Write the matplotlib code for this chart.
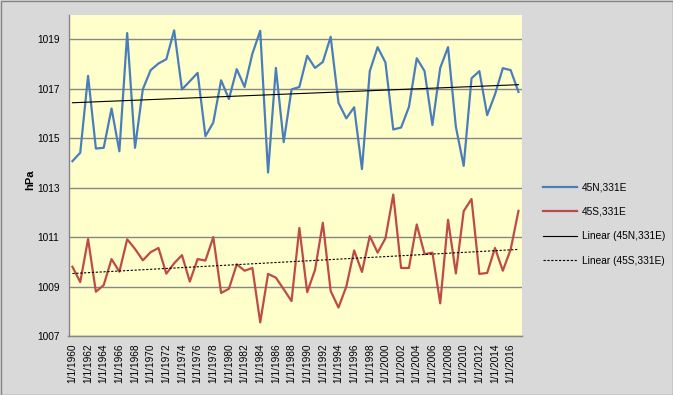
import numpy as np
import matplotlib.pyplot as plt
from matplotlib.patches import Rectangle

years = list(range(1960, 2018))

north = [1014.07, 1014.41, 1017.52, 1014.58, 1014.61, 1016.20, 1014.47, 1019.25,
         1014.61, 1016.98, 1017.75, 1018.02, 1018.19, 1019.36, 1016.97, 1017.30,
         1017.64, 1015.08, 1015.63, 1017.34, 1016.58, 1017.79, 1017.07, 1018.42,
         1019.34, 1013.61, 1017.84, 1014.84, 1016.97, 1017.07, 1018.33, 1017.84,
         1018.08, 1019.10, 1016.43, 1015.80, 1016.25, 1013.75, 1017.71, 1018.68,
         1018.06, 1015.35, 1015.43, 1016.26, 1018.23, 1017.71, 1015.53, 1017.84,
         1018.68, 1015.46, 1013.88, 1017.42, 1017.71, 1015.93, 1016.77, 1017.83,
         1017.75, 1016.87]

south = [1009.80, 1009.18, 1010.92, 1008.79, 1009.06, 1010.11, 1009.60, 1010.91,
         1010.52, 1010.06, 1010.39, 1010.56, 1009.52, 1009.94, 1010.27, 1009.20,
         1010.11, 1010.05, 1011.00, 1008.74, 1008.91, 1009.90, 1009.64, 1009.75,
         1007.55, 1009.51, 1009.36, 1008.89, 1008.41, 1011.37, 1008.77, 1009.67,
         1011.58, 1008.82, 1008.15, 1009.00, 1010.46, 1009.59, 1011.04, 1010.37,
         1010.95, 1012.72, 1009.75, 1009.75, 1011.51, 1010.31, 1010.37, 1008.32,
         1011.70, 1009.53, 1012.05, 1012.54, 1009.51, 1009.55, 1010.56, 1009.64,
         1010.50, 1012.06]

tick_years = list(range(1960, 2017, 2))
tick_labels = [f'1/1/{y}' for y in tick_years]
y_ticks = [1007, 1009, 1011, 1013, 1015, 1017, 1019]

plt.rcParams['font.family'] = ['Liberation Sans', 'DejaVu Sans']

fig = plt.figure(figsize=(6.73, 3.95), dpi=100, facecolor='#d9d9d9')
ax = fig.add_axes([68.5 / 673, 1 - 336 / 395, (522 - 68.5) / 673, (336 - 14.5) / 395])
ax.set_facecolor('#ffffcc')

x = np.array(years)
ax.plot(x, north, color='#4a7ebb', lw=1.6, label='45N,331E')
ax.plot(x, south, color='#be4b48', lw=1.6, label='45S,331E')

# linear trend lines like Excel
pn = np.polyfit(x, north, 1)
ps = np.polyfit(x, south, 1)
ax.plot(x, np.polyval(pn, x), color='black', lw=0.8, label='Linear (45N,331E)')
ax.plot(x, np.polyval(ps, x), color='black', lw=0.8, ls=(0, (2, 1.5)),
        label='Linear (45S,331E)')

ax.set_xlim(1959.5, 2017.45)
ax.set_ylim(1007, 1020)
ax.set_yticks(y_ticks)
ax.set_xticks(tick_years)
ax.set_xticklabels(tick_labels, rotation=90, fontsize=7.3)
ax.tick_params(axis='y', labelsize=7.3, length=0, pad=6.5)
ax.tick_params(axis='x', length=0, pad=5.5)
ax.grid(axis='y', color='#868686', lw=1)
ax.set_axisbelow(True)

for side in ['top', 'right']:
    ax.spines[side].set_visible(False)
for side in ['left', 'bottom']:
    ax.spines[side].set_color('#868686')
    ax.spines[side].set_linewidth(1)

fig.text(30 / 673, 1 - 180 / 395, 'hPa', rotation=90, fontsize=8,
         fontweight='bold', ha='center', va='center')

ax.legend(loc='center left', bbox_to_anchor=(543 / 673, 1 - 224 / 395),
          bbox_transform=fig.transFigure, frameon=False, fontsize=7.3,
          borderaxespad=0, borderpad=0,
          handlelength=3.4, handletextpad=0.45, labelspacing=1.42)

fig.patches.append(Rectangle((0.5 / 673, 0.5 / 395), 672 / 673, 394 / 395,
                             transform=fig.transFigure, fill=False,
                             edgecolor='#868686', lw=1))

fig.savefig('out.png', dpi=100, facecolor=fig.get_facecolor())
